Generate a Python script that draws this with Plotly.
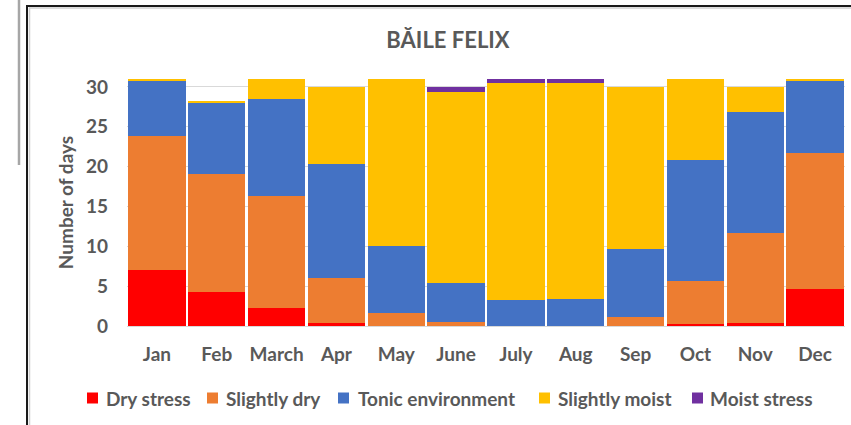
import plotly.graph_objects as go

months = ["Jan", "Feb", "March", "Apr", "May", "June", "July", "Aug", "Sep", "Oct", "Nov", "Dec"]
dry_stress = [7.07, 4.27, 2.26, 0.38, 0, 0, 0, 0, 0, 0.29, 0.42, 4.6]
slightly_dry = [16.75, 14.85, 14.06, 5.65, 1.67, 0.5, 0, 0, 1.09, 5.4, 11.21, 17.12]
tonic_env = [7.0, 8.9, 12.2, 14.26, 8.33, 4.94, 3.22, 3.35, 8.53, 15.11, 15.23, 9.03]
slightly_moist = [0.16, 0.13, 2.46, 9.7, 21.0, 23.93, 27.28, 27.15, 20.38, 10.2, 3.14, 0.25]
moist_stress = [0, 0, 0, 0, 0, 0.63, 0.5, 0.5, 0, 0, 0, 0]

series_names = ["Dry stress", "Slightly dry", "Tonic environment", "Slightly moist", "Moist stress"]
series_values = [dry_stress, slightly_dry, tonic_env, slightly_moist, moist_stress]
colors = ["#FF0000", "#ED7D31", "#4472C4", "#FFC000", "#7030A0"]
y_ticks = [0, 5, 10, 15, 20, 25, 30]

W, H = 851, 425
L, R, T, B = 127, 6, 79, 99
PW, PH = W - L - R, H - T - B
FONT = "Lato"
GRAY = "#595959"


def px_x(px):
    return (px - L) / PW


def px_y(py):
    return 1 - (py - T) / PH


fig = go.Figure()
for name, vals, col in zip(series_names, series_values, colors):
    fig.add_trace(go.Bar(x=months, y=vals, name=name, marker=dict(color=col, line=dict(width=0)),
                         showlegend=False))

shapes = []
annotations = []

# manual legend (Excel style small squares)
leg_sq = [87, 207, 338, 539, 692]
leg_tx = [104, 224, 356, 556, 708]
leg_y = 398
for name, col, sx, tx in zip(series_names, colors, leg_sq, leg_tx):
    shapes.append(dict(type="rect", xref="paper", yref="paper",
                       x0=px_x(sx), x1=px_x(sx + 11), y0=px_y(leg_y + 5.5), y1=px_y(leg_y - 5.5),
                       fillcolor=col, line=dict(width=0)))
    annotations.append(dict(text=name, xref="paper", yref="paper", x=px_x(tx), y=px_y(leg_y),
                            xanchor="left", yanchor="middle", showarrow=False,
                            font=dict(family=FONT, size=19, color=GRAY, weight="bold")))

# frame lines
shapes += [
    dict(type="line", xref="paper", yref="paper", x0=px_x(27), x1=px_x(27), y0=px_y(5), y1=px_y(430),
         line=dict(color="#1a1a1a", width=2)),
    dict(type="line", xref="paper", yref="paper", x0=px_x(26), x1=px_x(860), y0=px_y(6), y1=px_y(6),
         line=dict(color="#1a1a1a", width=2)),
    dict(type="line", xref="paper", yref="paper", x0=px_x(29.5), x1=px_x(29.5), y0=px_y(7.5), y1=px_y(430),
         line=dict(color="#d0d0d0", width=1.5)),
    dict(type="line", xref="paper", yref="paper", x0=px_x(29), x1=px_x(860), y0=px_y(8), y1=px_y(8),
         line=dict(color="#d0d0d0", width=1.5)),
    dict(type="line", xref="paper", yref="paper", x0=px_x(19), x1=px_x(19), y0=px_y(-2), y1=px_y(165),
         line=dict(color="#a6a6a6", width=2.5)),
]

fig.update_layout(
    width=W, height=H,
    margin=dict(l=L, r=R, t=T, b=B),
    paper_bgcolor="white", plot_bgcolor="white",
    barmode="stack", bargap=0.04,
    title=dict(text="BĂILE FELIX", xref="container", x=448 / W, xanchor="center",
               yref="container", y=1 - 40 / H, yanchor="middle",
               font=dict(family=FONT, size=22, color=GRAY, weight="bold")),
    shapes=shapes,
    annotations=annotations,
    font=dict(family=FONT, color=GRAY),
)
fig.update_xaxes(showgrid=False, showline=True, linecolor="#D9D9D9", linewidth=1,
                 ticks="", ticklabelstandoff=11,
                 tickfont=dict(family=FONT, size=19, color=GRAY, weight="bold"))
fig.update_yaxes(range=[0, 31], tickvals=y_ticks, showgrid=True, gridcolor="#D9D9D9", gridwidth=1,
                 zeroline=False, showline=False, ticks="", ticklabelstandoff=18,
                 tickfont=dict(family=FONT, size=19, color=GRAY, weight="bold"),
                 title=dict(text="Number of days", standoff=7,
                            font=dict(family=FONT, size=19, color=GRAY, weight="bold")))

fig.write_html("out.html", config={"displayModeBar": False},
               post_script="document.body.style.margin='0px';document.body.style.overflow='hidden';")
